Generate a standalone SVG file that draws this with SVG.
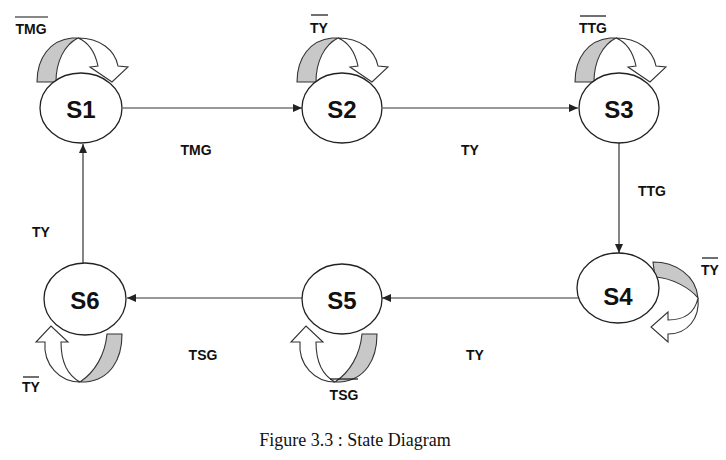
<svg xmlns="http://www.w3.org/2000/svg" width="726" height="460" viewBox="0 0 726 460">
<style>
.st{fill:#fff;stroke:#222;stroke-width:1.3}
.sl{font-family:"Liberation Sans",Arial,sans-serif;font-weight:bold;font-size:24px;fill:#111;text-anchor:middle;dominant-baseline:central}
.lb{font-family:"Liberation Sans",Arial,sans-serif;font-weight:bold;font-size:14px;fill:#111;text-anchor:middle}
.ov{stroke:#111;stroke-width:1.2}
.ed{stroke:#333;stroke-width:1.2;fill:none;marker-end:url(#ah)}
.gr{fill:#c8c8c8;stroke:#333;stroke-width:1.1}
.wh{fill:#fff;stroke:#333;stroke-width:1.1}
.cap{font-family:"Liberation Serif","Times New Roman",serif;font-size:18px;fill:#111;text-anchor:middle}
</style>
<defs>
<marker id="ah" markerWidth="10" markerHeight="8" refX="9" refY="4" orient="auto" markerUnits="userSpaceOnUse">
<path d="M0,0 L9,4 L0,8 Z" fill="#222"/>
</marker>
<g id="loopTop">
<path class="gr" d="M37,82 C37,58 50,40 72,38 L78,38 C64,45 56,62 56,82 Z"/>
<path class="wh" d="M78,38 C100,38 115,50 118,66 L128,67 L112,82 L90,67 L98,66 C95,52 88,42 78,38 Z"/>
</g>
<g id="loopBot">
<path class="gr" d="M362,334 L377,334 C377,360 365,380 340,382 L335,382 C350,372 360,355 362,334 Z"/>
<path class="wh" d="M335,382 C315,382 298,365 300,342 L291,342 L306,326 L323,342 L316,342 C316,360 322,375 335,382 Z"/>
</g>
</defs>
<g id="connectors">
<line class="ed" x1="123" y1="108" x2="302" y2="108"/>
<line class="ed" x1="383" y1="108" x2="578" y2="108"/>
<line class="ed" x1="619" y1="143" x2="619" y2="253"/>
<line class="ed" x1="579" y1="298" x2="382" y2="298"/>
<line class="ed" x1="302" y1="298" x2="127" y2="298"/>
<line class="ed" x1="83" y1="263" x2="83" y2="144"/>
<text class="lb" x="196" y="155">TMG</text>
<text class="lb" x="470" y="155">TY</text>
<text class="lb" x="652" y="196">TTG</text>
<text class="lb" x="41" y="237">TY</text>
<text class="lb" x="203" y="360">TSG</text>
<text class="lb" x="475" y="360">TY</text>
</g>
<g id="loops">
<use href="#loopTop"/>
<use href="#loopTop" transform="translate(260,0)"/>
<use href="#loopTop" transform="translate(538,0)"/>
<g id="loopS4">
<path class="gr" d="M653,262 C675,262 696,275 698,298 C690,288 672,278 655,277 Z"/>
<path class="wh" d="M698,298 C695,312 685,320 668,320 L668,312 L651,327 L668,342 L668,334 C688,334 700,318 698,298 Z"/>
</g>
<use href="#loopBot"/>
<use href="#loopBot" transform="translate(-255,0)"/>
</g>
<g id="S1"><ellipse class="st" cx="81" cy="108" rx="41" ry="35"/><text class="sl" x="81" y="109">S1</text></g>
<g id="S2"><ellipse class="st" cx="342" cy="108" rx="40" ry="35"/><text class="sl" x="342" y="109">S2</text></g>
<g id="S3"><ellipse class="st" cx="619" cy="108" rx="40" ry="35"/><text class="sl" x="619" y="109">S3</text></g>
<g id="S4"><ellipse class="st" cx="618" cy="288" rx="41" ry="35"/><text class="sl" x="618" y="296">S4</text></g>
<g id="S5"><ellipse class="st" cx="342" cy="299" rx="40" ry="35"/><text class="sl" x="342" y="300">S5</text></g>
<g id="S6"><ellipse class="st" cx="85" cy="299" rx="41" ry="36"/><text class="sl" x="85" y="300">S6</text></g>
<g id="loopLabels">
<text class="lb" x="31" y="34">TMG</text><line class="ov" x1="15" y1="17" x2="48" y2="17"/>
<text class="lb" x="319" y="33">TY</text><line class="ov" x1="311" y1="15" x2="328" y2="15"/>
<text class="lb" x="593" y="33">TTG</text><line class="ov" x1="580" y1="16" x2="606" y2="16"/>
<text class="lb" x="710" y="275">TY</text><line class="ov" x1="702" y1="258" x2="718" y2="258"/>
<text class="lb" x="344" y="400">TSG</text><line class="ov" x1="330" y1="379" x2="358" y2="379"/>
<text class="lb" x="31" y="392">TY</text><line class="ov" x1="23" y1="377" x2="39" y2="377"/>
</g>
<text class="cap" x="355" y="446">Figure 3.3 : State Diagram</text>
</svg>
